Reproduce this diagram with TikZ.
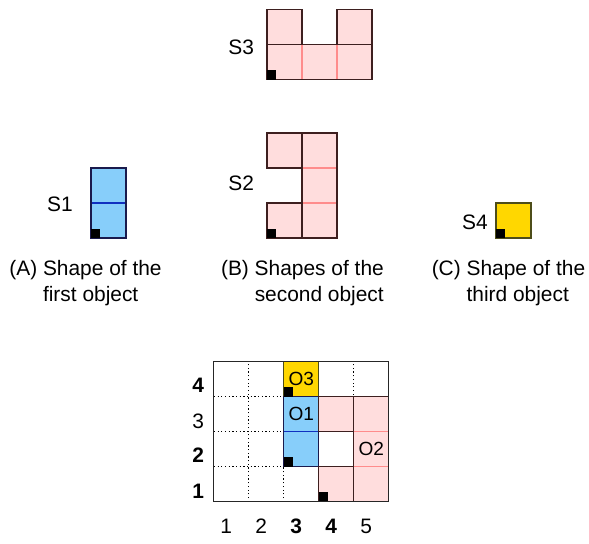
\documentclass[tikz,border=0pt]{standalone}
\usepackage{fontspec}
\setmainfont{Liberation Sans}
\usepackage{tikz}
\definecolor{pkfill}{HTML}{FFDDDD}
\definecolor{pkline}{HTML}{FF8C8C}
\definecolor{pkedge}{HTML}{3D1F1F}
\definecolor{blfill}{HTML}{87CEFA}
\definecolor{blline}{HTML}{1030C0}
\definecolor{bledge}{HTML}{1A1A4D}
\definecolor{ylfill}{HTML}{FFD700}
\definecolor{ylline}{HTML}{8A7A00}
\definecolor{yledge}{HTML}{4D4D1A}
\tikzset{
  pkin/.style={draw=pkline, line width=0.9pt},
  pkout/.style={draw=pkedge, line width=1pt},
  blin/.style={draw=blline, line width=0.9pt},
  blout/.style={draw=bledge, line width=1pt},
  ylin/.style={draw=ylline, line width=0.9pt},
  ylout/.style={draw=yledge, line width=1pt},
  lbl/.style={font=\fontsize{17}{21}\selectfont, inner sep=0pt},
  olbl/.style={font=\fontsize{15.5}{18}\selectfont, inner sep=0pt},
  capn/.style={font=\fontsize{17}{21.5}\selectfont, anchor=west, inner sep=0pt},
  cellgrid/.style={dash pattern=on 1pt off 2pt, line width=0.9pt},
  border/.style={draw=black!85, line width=1pt},
}
\begin{document}
\begin{tikzpicture}[x=1cm,y=1cm]
\useasboundingbox (0,0) rectangle (16.83,15.54);
\newcommand{\pcs}[5]{\fill[#5fill] (#1,#2) rectangle ++(#3,#4);
  \begin{scope}[shift={(#1,#2)}] \draw[#5in] (0,0) grid (#3,#4); \end{scope}
  \draw[#5out] (#1,#2) rectangle ++(#3,#4);}
\newcommand{\mrk}[2]{\fill[black] (#1,#2) rectangle ++(0.27,0.27);}
% shapes
\pcs{7.63}{13.26}{3}{1}{pk}
\pcs{7.63}{14.26}{1}{1}{pk}
\pcs{9.63}{14.26}{1}{1}{pk}
\mrk{7.63}{13.26}
\node[lbl] (s3) at (6.89,14.2) {S3};
\pcs{2.6}{8.74}{1}{2}{bl}
\mrk{2.6}{8.74}
\node[lbl] (s1) at (1.71,9.69) {S1};
\pcs{7.63}{8.74}{1}{1}{pk}
\pcs{7.63}{10.74}{1}{1}{pk}
\pcs{8.63}{8.74}{1}{3}{pk}
\mrk{7.63}{8.74}
\node[lbl] (s2) at (6.89,10.31) {S2};
\pcs{14.17}{8.74}{1}{1}{yl}
\mrk{14.17}{8.74}
\node[lbl] (s4) at (13.57,9.2) {S4};
\node[capn] (capa) at (0.26,7.44) {\begin{tabular}{@{}l@{ }l@{}}(A)&Shape of the\\&first object\end{tabular}};
\node[capn] (capb) at (6.31,7.44) {\begin{tabular}{@{}l@{ }l@{}}(B)&Shapes of the\\&second object\end{tabular}};
\node[capn] (capc) at (12.33,7.44) {\begin{tabular}{@{}l@{ }l@{}}(C)&Shape of the\\&third object\end{tabular}};
% placement grid
\begin{scope}[shift={(6.11,1.2)}]
\draw[cellgrid] (0,0) grid (5,4);
\pcs{2}{3}{1}{1}{yl}
\pcs{2}{1}{1}{2}{bl}
\pcs{3}{0}{1}{1}{pk}
\pcs{3}{2}{1}{1}{pk}
\pcs{4}{0}{1}{3}{pk}
\mrk{2}{3} \mrk{2}{1} \mrk{3}{0}
\draw[border] (0,0) rectangle (5,4);
\node[olbl] (o3) at (2.5,3.5) {O3};
\node[olbl] (o1) at (2.5,2.5) {O1};
\node[olbl] (o2) at (4.5,1.5) {O2};
\node[lbl] (r4) at (-0.45,3.34) {\bfseries 4};
\node[lbl] (r3) at (-0.45,2.31) {3};
\node[lbl] (r2) at (-0.45,1.34) {\bfseries 2};
\node[lbl] (r1) at (-0.45,0.31) {\bfseries 1};
\node[lbl] (c1) at (0.35,-0.7) {1};
\node[lbl] (c2) at (1.35,-0.7) {2};
\node[lbl] (c3) at (2.35,-0.7) {\bfseries 3};
\node[lbl] (c4) at (3.35,-0.7) {\bfseries 4};
\node[lbl] (c5) at (4.35,-0.7) {5};
\end{scope}
\end{tikzpicture}
\end{document}
